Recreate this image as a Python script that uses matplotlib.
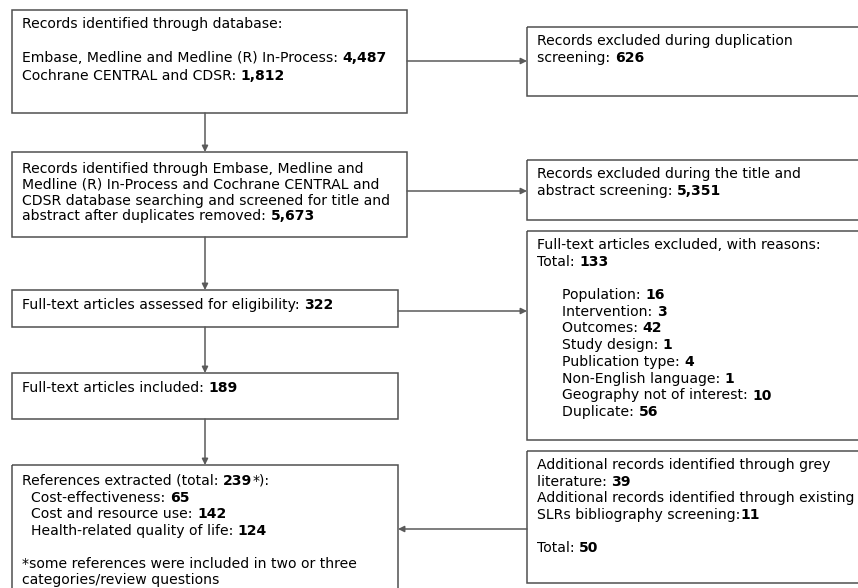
import matplotlib
matplotlib.use("Agg")
import matplotlib.pyplot as plt
from matplotlib.patches import Rectangle

# counts
n_embase = "4,487"
n_cochrane = "1,812"
n_dup_excluded = "626"
n_screened = "5,673"
n_title_excluded = "5,351"
n_fulltext = "322"
n_included = "189"
n_excluded_total = "133"
excl_reasons = ["Population", "Intervention", "Outcomes", "Study design",
                "Publication type", "Non-English language",
                "Geography not of interest", "Duplicate"]
excl_counts = [16, 3, 42, 1, 4, 1, 10, 56]
n_refs_total = "239"
ref_categories = ["Cost-effectiveness", "Cost and resource use",
                  "Health-related quality of life"]
ref_counts = [65, 142, 124]
n_grey = "39"
n_slr = "11"
n_additional = "50"

FS = 10.1
EDGE = "#505050"
LINE = "#5a5a5a"

fig = plt.figure(figsize=(8.58, 5.88), dpi=100)
ax = fig.add_axes([0, 0, 1, 1])
ax.set_xlim(0, 858)
ax.set_ylim(588, 0)
ax.axis("off")


def box(x0, y0, x1, y1):
    ax.add_patch(Rectangle((x0, y0), x1 - x0, y1 - y0, fill=False,
                           edgecolor=EDGE, linewidth=1.1))


def rich_line(x, y, segs):
    # segs: list of (text, bold); chained so the pieces sit side by side
    prev = None
    for txt, bold in segs:
        w = "bold" if bold else "normal"
        if prev is None:
            prev = ax.text(x, y, txt, fontsize=FS, fontweight=w,
                           ha="left", va="baseline", color="black")
        else:
            prev = ax.annotate(txt, xy=(1, 0), xycoords=prev, fontsize=FS,
                               fontweight=w, ha="left", va="bottom",
                               color="black")


def lines(x, y0, dy, rows):
    for i, segs in enumerate(rows):
        if segs:
            rich_line(x, y0 + i * dy, segs)


def arrow(x0, y0, x1, y1):
    ax.annotate("", xy=(x1, y1), xytext=(x0, y0),
                arrowprops=dict(arrowstyle="-|>", color=LINE, lw=1.1,
                                mutation_scale=9, shrinkA=0, shrinkB=0))


# left column
box(12, 10, 407, 113)
rich_line(22, 28, [("Records identified through database:", False)])
rich_line(22, 62, [("Embase, Medline and Medline (R) In-Process: ", False), (n_embase, True)])
rich_line(22, 80, [("Cochrane CENTRAL and CDSR: ", False), (n_cochrane, True)])

box(12, 152, 407, 237)
lines(22, 173, 15.8, [
    [("Records identified through Embase, Medline and", False)],
    [("Medline (R) In-Process and Cochrane CENTRAL and", False)],
    [("CDSR database searching and screened for title and", False)],
    [("abstract after duplicates removed: ", False), (n_screened, True)],
])

box(12, 290, 398, 327)
rich_line(22, 309, [("Full-text articles assessed for eligibility: ", False), (n_fulltext, True)])

box(12, 373, 398, 419)
rich_line(22, 392, [("Full-text articles included: ", False), (n_included, True)])

box(12, 465, 398, 600)
rows = [[("References extracted (total: ", False), (n_refs_total, True), ("*):", False)]]
for c, n in zip(ref_categories, ref_counts):
    rows.append([("  " + c + ": ", False), (str(n), True)])
lines(22, 485, 16.6, rows)
lines(22, 568, 15.7, [
    [("*some references were included in two or three", False)],
    [("categories/review questions", False)],
])

# right column
box(527, 27, 870, 96)
lines(537, 45, 16.7, [
    [("Records excluded during duplication", False)],
    [("screening: ", False), (n_dup_excluded, True)],
])

box(527, 160, 870, 220)
lines(537, 178, 16.7, [
    [("Records excluded during the title and", False)],
    [("abstract screening: ", False), (n_title_excluded, True)],
])

box(527, 231, 870, 440)
rows = [[("Full-text articles excluded, with reasons:", False)],
        [("Total: ", False), (n_excluded_total, True)],
        []]
lines(537, 249, 16.7, rows)
lines(562, 299, 16.75, [[(r + ": ", False), (str(n), True)]
                        for r, n in zip(excl_reasons, excl_counts)])

box(527, 451, 870, 583)
lines(537, 469, 16.7, [
    [("Additional records identified through grey", False)],
    [("literature: ", False), (n_grey, True)],
    [("Additional records identified through existing", False)],
    [("SLRs bibliography screening:", False), (n_slr, True)],
    [],
    [("Total: ", False), (n_additional, True)],
])

# connectors
arrow(205, 113, 205, 152)
arrow(205, 237, 205, 290)
arrow(205, 327, 205, 373)
arrow(205, 419, 205, 465)
arrow(407, 61, 527, 61)
arrow(407, 191, 527, 191)
arrow(398, 311, 527, 311)
arrow(527, 529, 398, 529)

fig.savefig("out.png", dpi=100)
